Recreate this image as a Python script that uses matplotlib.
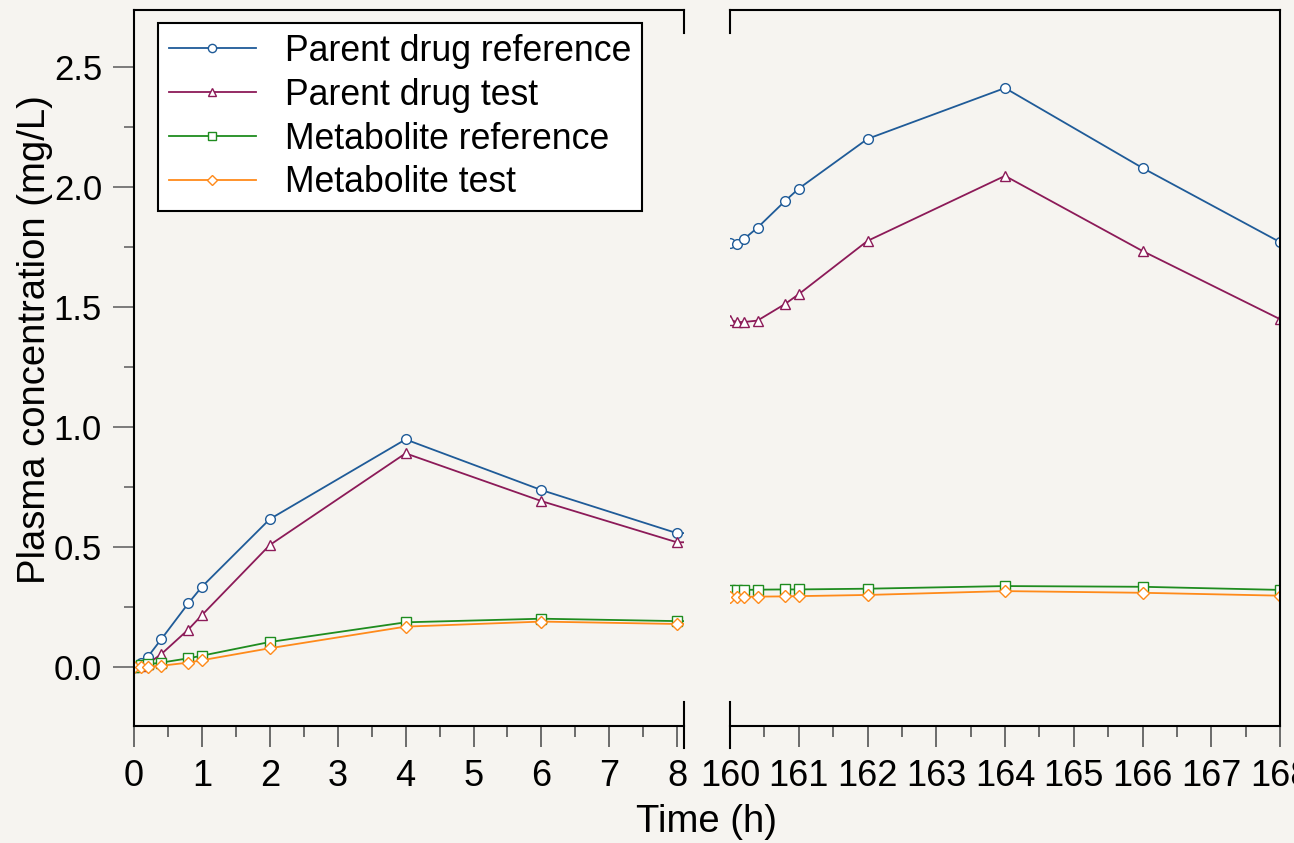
import matplotlib
matplotlib.use("Agg")
import matplotlib.pyplot as plt
from matplotlib.ticker import MultipleLocator

plt.rcParams["font.family"] = ["Liberation Sans", "DejaVu Sans"]

# sampling times (h): first dose and steady state
time = [0, 0.1, 0.2, 0.4, 0.8, 1, 2, 4, 6, 8,
        160, 160.1, 160.2, 160.4, 160.8, 161, 162, 164, 166, 168]

parent_ref = [0.0, 0.015, 0.04, 0.114, 0.264, 0.333, 0.615, 0.947, 0.736, 0.556,
              1.767, 1.760, 1.781, 1.829, 1.940, 1.992, 2.199, 2.411, 2.078, 1.769]
parent_test = [0.0, 0.003, 0.012, 0.052, 0.155, 0.215, 0.507, 0.889, 0.690, 0.518,
               1.445, 1.436, 1.436, 1.442, 1.511, 1.552, 1.774, 2.045, 1.732, 1.448]
metab_ref = [0.0, 0.006, 0.010, 0.017, 0.035, 0.046, 0.103, 0.185, 0.200, 0.190,
             0.320, 0.320, 0.320, 0.321, 0.322, 0.322, 0.325, 0.336, 0.333, 0.320]
metab_test = [0.0, 0.0, 0.0, 0.004, 0.017, 0.027, 0.077, 0.167, 0.188, 0.178,
              0.292, 0.291, 0.291, 0.292, 0.293, 0.294, 0.299, 0.315, 0.308, 0.296]

labels = ["Parent drug reference", "Parent drug test",
          "Metabolite reference", "Metabolite test"]
series = [parent_ref, parent_test, metab_ref, metab_test]
colors = ["#1f5b98", "#8c1a58", "#1f8c1f", "#ff8a1a"]
markers = ["o", "^", "s", "D"]
msizes = [7, 7.5, 7, 6.5]

bg = "#f6f4f0"
W, H = 1294, 843
fig = plt.figure(figsize=(W / 100, H / 100), dpi=100, facecolor=bg)

ax1 = fig.add_axes([134 / W, (H - 726) / H, 550 / W, 716 / H], facecolor=bg)
ax2 = fig.add_axes([730 / W, (H - 726) / H, 550 / W, 716 / H], facecolor=bg)

for ax in (ax1, ax2):
    for y, lab, c, m, ms in zip(series, labels, colors, markers, msizes):
        ax.plot(time, y, color=c, lw=1.3, marker=m, ms=ms, mfc="white",
                mec=c, mew=1.0, label=lab)
    ax.set_ylim(-0.247, 2.736)
    ax.xaxis.set_major_locator(MultipleLocator(1))
    ax.xaxis.set_minor_locator(MultipleLocator(0.5))
    ax.tick_params(axis="x", which="major", length=15, width=1.2,
                   color="#555555", labelsize=26, pad=9)
    ax.tick_params(axis="x", which="minor", length=8, width=1.2, color="#555555")
    for s in ax.spines.values():
        s.set_linewidth(1.5)

ax1.set_xlim(0, 8.1)
ax2.set_xlim(160, 168)

ax1.spines["right"].set_visible(False)
ax2.spines["left"].set_visible(False)

ax1.yaxis.set_major_locator(MultipleLocator(0.5))
ax1.yaxis.set_minor_locator(MultipleLocator(0.25))
ax1.yaxis.set_major_formatter(plt.FormatStrFormatter("%.1f"))
ax1.tick_params(axis="y", which="major", length=15, width=1.2,
                color="#666666", labelsize=25, pad=8)
ax1.tick_params(axis="y", which="minor", length=7, width=1.2, color="#666666")
ax2.tick_params(axis="y", which="both", left=False, labelleft=False)

# axis break marks
for ax, xb in ((ax1, 1.0), (ax2, 0.0)):
    ax.plot([xb, xb], [1.0, 0.968], color="black", lw=1.5,
            transform=ax.transAxes, clip_on=False)
    ax.plot([xb, xb], [0.0335, -0.0307], color="black", lw=1.5,
            transform=ax.transAxes, clip_on=False)

leg = ax1.legend(loc="upper left", bbox_to_anchor=(24 / 550, 1 - 13 / 716),
                 fontsize=25.7, frameon=True, fancybox=False, framealpha=1,
                 facecolor="white", edgecolor="black", handlelength=2.45,
                 handletextpad=0.8, labelspacing=0.25, borderpad=0.3,
                 borderaxespad=0, markerscale=0.85)
leg.get_frame().set_linewidth(1.5)

fig.text(707 / W, 1 - 822 / H, "Time (h)", ha="center", va="center", fontsize=27.5)
fig.text(35 / W, 1 - 340 / H, "Plasma concentration (mg/L)", ha="center",
         va="center", rotation=90, fontsize=27.5)

fig.savefig("out.png", dpi=100, facecolor=bg)
